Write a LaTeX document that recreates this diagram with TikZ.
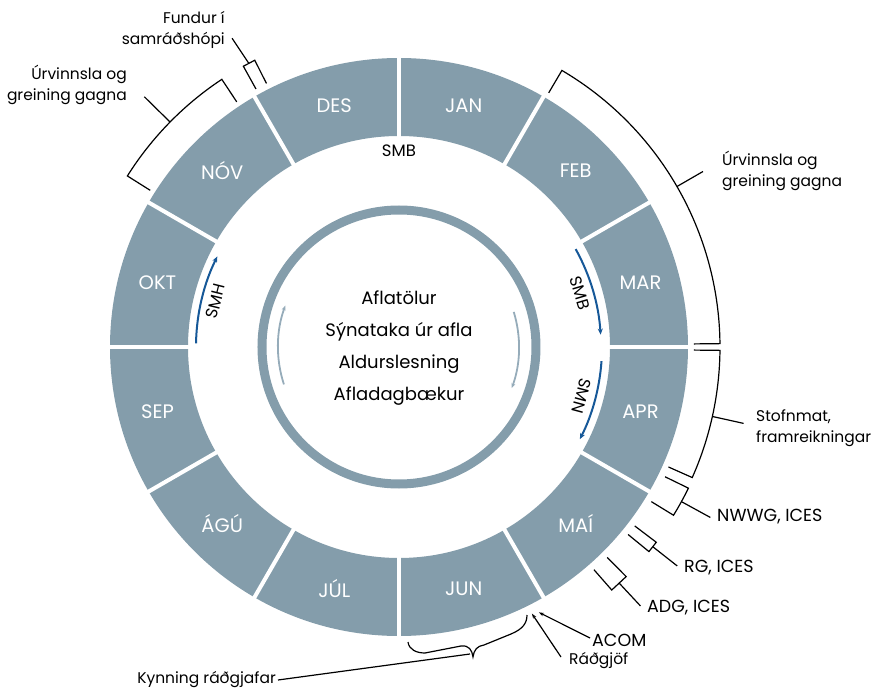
\documentclass[tikz,border=0pt]{standalone}
\usepackage{fontspec}
\setmainfont{Poppins}
\usetikzlibrary{arrows.meta}
\definecolor{seg}{RGB}{132,157,171}
\definecolor{arcblue}{RGB}{22,88,152}
\definecolor{lightarc}{RGB}{150,172,186}
\begin{document}
\begin{tikzpicture}[x=1pt,y=1pt,
  month/.style={text=white,font=\fontsize{19.5}{19.5}\selectfont},
  ctext/.style={font=\fontsize{18}{18}\selectfont},
  lbl/.style={font=\fontsize{15.5}{21}\selectfont,inner sep=0pt},
  caplbl/.style={font=\fontsize{17.5}{17.5}\selectfont,inner sep=0pt},
  sidelbl/.style={font=\fontsize{16.5}{16.5}\selectfont,inner sep=0pt},
  brk/.style={line width=1.2pt,black},
  bluearc/.style={arcblue,line width=2pt,-{Stealth[length=6pt,width=5pt]}},
  greyarc/.style={lightarc,line width=1.8pt,-{Stealth[length=5pt,width=4pt]}},
  smallarrow/.style={line width=1.2pt,-{Stealth[length=5pt,width=3.5pt]}}]
\useasboundingbox (-399,-341) rectangle (480,347);
% month ring
\fill[seg,even odd rule] (0,0) circle[radius=289] (0,0) circle[radius=211];
\foreach \a in {0,30,...,330} \draw[white,line width=4pt] (\a:205) -- (\a:295);
\node[month] (jan) at (75:250) {JAN};
\node[month] (feb) at (45:250) {FEB};
\node[month] (mar) at (15:250) {MAR};
\node[month] (apr) at (-15:250) {APR};
\node[month] (mai) at (-45:250) {MAÍ};
\node[month] (jun) at (-75:250) {JUN};
\node[month] (jul) at (-105:250) {JÚL};
\node[month] (agu) at (-135:250) {ÁGÚ};
\node[month] (sep) at (-165:250) {SEP};
\node[month] (okt) at (165:250) {OKT};
\node[month] (nov) at (135:250) {NÓV};
\node[month] (des) at (105:250) {DES};
% inner ring
\draw[seg,line width=9pt] (0,0) circle[radius=137];
\draw[greyarc] (198:121) arc[start angle=198,end angle=160,radius=121];
\draw[greyarc] (17:120) arc[start angle=17,end angle=-20,radius=120];
\node[ctext] (c1) at (0,49) {Aflatölur};
\node[ctext] (c2) at (0,15) {Sýnataka úr afla};
\node[ctext] (c3) at (0,-17) {Aldurslesning};
\node[ctext] (c4) at (0,-49) {Afladagbækur};
% surveys
\node[sidelbl] (smbtop) at (0,196) {SMB};
\draw[bluearc] (29:202) arc[start angle=29,end angle=3.5,radius=202];
\node[sidelbl,rotate=-73.5] (smb) at (16.5:189) {SMB};
\draw[bluearc] (-4:203) arc[start angle=-4,end angle=-27,radius=203];
\node[sidelbl,rotate=-105] (smn) at (-15:189) {SMN};
\draw[bluearc] (179:203) arc[start angle=179,end angle=153.5,radius=203];
\node[sidelbl,rotate=76] (smh) at (166:189) {SMH};
% right top bracket
\draw[brk] (59.5:295) -- (59.5:321) arc[start angle=59.5,end angle=0.6,radius=321] -- (0.6:295);
\coordinate (b1a) at (30:321); \coordinate (b1b) at (30:351);
\draw[brk] (b1a) -- (b1b);
\node[lbl,anchor=west,align=left] (urvR) at (323,176) {Úrvinnsla og\\greining gagna};
% stofnmat bracket
\draw[brk] (-0.6:295) -- (-0.6:321) arc[start angle=-0.6,end angle=-24,radius=321] -- (-24:295);
\coordinate (b2a) at (-12.5:321); \coordinate (b2b) at (-12.5:353);
\draw[brk] (b2a) -- (b2b);
\node[lbl,anchor=west,align=left] (stofn) at (357,-81) {Stofnmat,\\framreikningar};
% NWWG
\draw[brk] (-26:296) -- (-26:322) arc[start angle=-26,end angle=-31.5,radius=322] -- (-31.5:296);
\coordinate (b3a) at (-28.7:322); \coordinate (b3b) at (-28.7:355);
\draw[brk] (b3a) -- (b3b);
\node[caplbl,anchor=west] (nwwg) at (318,-170) {NWWG, ICES};
% RG
\draw[brk] (-37.2:296) -- (-37.2:323) -- (-39.3:323) -- (-39.3:296);
\coordinate (b4a) at (-38.2:323); \coordinate (b4b) at (-38.2:354);
\draw[brk] (b4a) -- (b4b);
\node[caplbl,anchor=west] (rg) at (285,-221) {RG, ICES};
% ADG
\draw[brk] (-45.3:296) -- (-45.3:323) -- (-48.8:323) -- (-48.8:296);
\coordinate (b5a) at (-47:323); \coordinate (b5b) at (-47:354);
\draw[brk] (b5a) -- (b5b);
\node[caplbl,anchor=west] (adg) at (248,-261) {ADG, ICES};
% ACOM / Radgjof
\node[caplbl,anchor=west] (acom) at (193,-293) {ACOM};
\node[lbl,anchor=west] (radg) at (170,-314) {Ráðgjöf};
\coordinate (acomtip) at (-62.2:300);
\coordinate (radgtip) at (-63.5:298);
\draw[smallarrow] ([xshift=-2pt,yshift=2pt]acom.west) -- (acomtip);
\draw[smallarrow] ([xshift=-8pt,yshift=4pt]radg.west) -- (radgtip);
% brace under JUN
\coordinate (bracetip) at (71,-307);
\draw[brk] (9,-295) .. controls (10,-303) and (18,-306) .. (26,-306) -- (62,-299)
  .. controls (70,-298) and (73,-303) .. (74,-310)
  .. controls (75,-303) and (78,-299) .. (85,-298) -- (112,-287)
  .. controls (124,-282) and (128,-276) .. (128,-268);
\node[lbl,anchor=east] (kynn) at (-123,-333) {Kynning ráðgjafar};
\draw[brk] ([xshift=2pt]kynn.east) -- (bracetip);
% top-left bracket
\draw[brk] (123.5:294) -- (123.5:321) arc[start angle=123.5,end angle=147.8,radius=321] -- (147.8:294);
\coordinate (b6a) at (135.5:321); \coordinate (b6b) at (135.5:357);
\draw[brk] (b6a) -- (b6b);
\node[lbl,anchor=east,align=right] (urvL) at (-272,262) {Úrvinnsla og\\greining gagna};
% fundur
\draw[brk] (116.7:295) -- (116.7:321) -- (119:321) -- (119:295);
\coordinate (b7a) at (117.9:321); \coordinate (b7b) at (118.4:351);
\draw[brk] (b7a) -- (b7b);
\node[lbl,anchor=east,align=right] (fund) at (-174,317) {Fundur í\\samráðshópi};
\end{tikzpicture}
\end{document}
